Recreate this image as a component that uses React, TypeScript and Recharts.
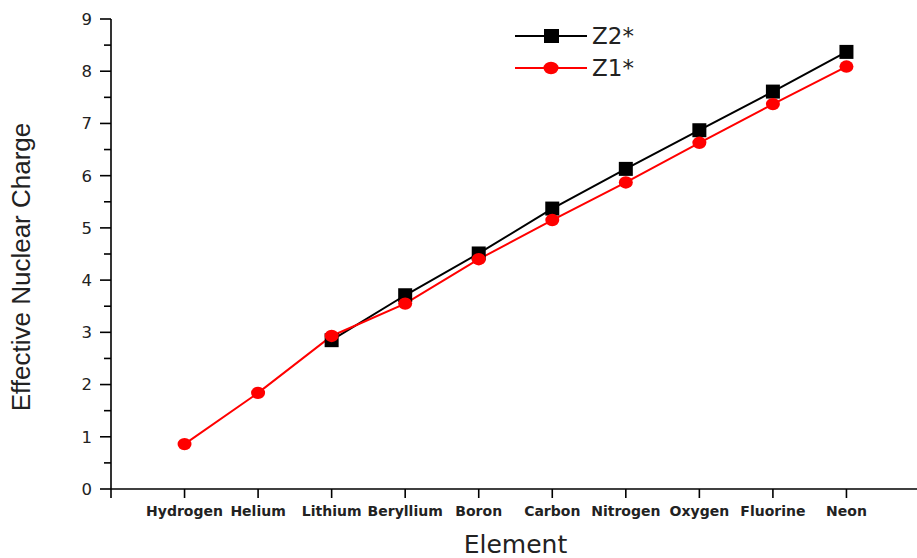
import React from 'react';
import { LineChart, Line, XAxis, YAxis } from 'recharts';

const elements = ['Hydrogen', 'Helium', 'Lithium', 'Beryllium', 'Boron', 'Carbon', 'Nitrogen', 'Oxygen', 'Fluorine', 'Neon'];
const z1Values = [0.86, 1.84, 2.93, 3.55, 4.4, 5.15, 5.87, 6.63, 7.37, 8.09];
const z2Values: (number | null)[] = [null, null, 2.85, 3.71, 4.51, 5.37, 6.13, 6.87, 7.61, 8.37];
const xTicks = [0, 1, 2, 3, 4, 5, 6, 7, 8, 9, 10];
const yTicks = [0, 0.5, 1, 1.5, 2, 2.5, 3, 3.5, 4, 4.5, 5, 5.5, 6, 6.5, 7, 7.5, 8, 8.5, 9];
const seriesNames = ['Z2*', 'Z1*'];

const data = elements.map((name, i) => ({ idx: i + 1, name, z1: z1Values[i], z2: z2Values[i] }));

const TEXT = '#222';

const YTick = (props: any) => {
  const { x, y, payload } = props;
  const major = Number.isInteger(payload.value);
  return (
    <g>
      <line x1={x - (major ? 11 : 7)} x2={x} y1={y} y2={y} stroke="#000" strokeWidth={1.6} />
      {major && (
        <text x={x - 19} y={y} dy="0.36em" textAnchor="end" fontFamily="DejaVu Sans" fontSize={16.5} fill={TEXT}>
          {payload.value}
        </text>
      )}
    </g>
  );
};

const XTick = (props: any) => {
  const { x, y, payload } = props;
  const label = payload.value >= 1 && payload.value <= elements.length ? elements[payload.value - 1] : '';
  return (
    <text x={x} y={y} dy="0.71em" textAnchor="middle" fontFamily="DejaVu Sans" fontWeight="bold" fontSize={14} fill={TEXT}>
      {label}
    </text>
  );
};

const Square = (props: any) => {
  const { cx, cy, value } = props;
  if (value == null || cx == null || cy == null) return null;
  return <rect x={cx - 7} y={cy - 7} width={14} height={14} fill="#000" />;
};

const Dot = (props: any) => {
  const { cx, cy, value } = props;
  if (value == null || cx == null || cy == null) return null;
  return <ellipse cx={cx} cy={cy} rx={7} ry={6.2} fill="#ff0000" />;
};

const LegendBox = () => (
  <svg width={160} height={60} style={{ position: 'absolute', left: 515, top: 24, overflow: 'visible' }}>
    <line x1={0} x2={72} y1={12} y2={12} stroke="#000" strokeWidth={2} />
    <rect x={29} y={5} width={15} height={14} fill="#000" />
    <text x={77} y={12} dy="0.36em" fontFamily="DejaVu Sans" fontSize={23} fill={TEXT}>{seriesNames[0]}</text>
    <line x1={0} x2={72} y1={44} y2={44} stroke="#ff0000" strokeWidth={2} />
    <ellipse cx={36} cy={44} rx={7.5} ry={6.2} fill="#ff0000" />
    <text x={77} y={44} dy="0.36em" fontFamily="DejaVu Sans" fontSize={23} fill={TEXT}>{seriesNames[1]}</text>
  </svg>
);

export default function App() {
  return (
    <div style={{ position: 'absolute', left: 0, top: 0, width: 917, height: 558, overflow: 'hidden', background: '#fff' }}>
      <LineChart width={930} height={558} data={data} margin={{ top: 19, right: 10, bottom: 0, left: 0 }}>
        <XAxis
          dataKey="idx"
          type="number"
          domain={[0, 11]}
          ticks={xTicks}
          interval={0}
          tick={<XTick />}
          tickSize={9}
          tickMargin={8}
          height={69}
          axisLine={{ stroke: '#000', strokeWidth: 1.6 }}
          tickLine={{ stroke: '#000', strokeWidth: 1.6 }}
          label={{ value: 'Element', position: 'insideBottom', offset: 5, fontFamily: 'DejaVu Sans', fontSize: 25, fill: TEXT }}
        />
        <YAxis
          type="number"
          domain={[0, 9]}
          ticks={yTicks}
          interval={0}
          width={111}
          tickSize={0}
          tickMargin={0}
          tickLine={false}
          tick={<YTick />}
          axisLine={{ stroke: '#000', strokeWidth: 1.6 }}
          label={{
            value: 'Effective Nuclear Charge',
            angle: -90,
            position: 'insideLeft',
            offset: 21,
            dy: 13,
            style: { textAnchor: 'middle' },
            fontFamily: 'Liberation Sans',
            fontSize: 26,
            fill: TEXT,
          }}
        />
        <Line
          dataKey="z2"
          name={seriesNames[0]}
          stroke="#000"
          strokeWidth={2}
          dot={<Square />}
          activeDot={false}
          isAnimationActive={false}
          connectNulls={false}
        />
        <Line
          dataKey="z1"
          name={seriesNames[1]}
          stroke="#ff0000"
          strokeWidth={2}
          dot={<Dot />}
          activeDot={false}
          isAnimationActive={false}
        />
      </LineChart>
      <LegendBox />
    </div>
  );
}
